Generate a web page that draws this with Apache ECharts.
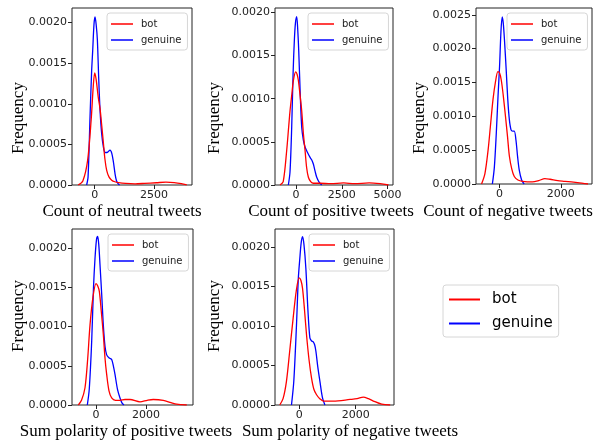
<!DOCTYPE html>
<html>
<head>
<meta charset="utf-8">
<script src="https://cdn.jsdelivr.net/npm/echarts@6/dist/echarts.min.js"></script>
<style>
  html, body { margin: 0; padding: 0; background: #fff; }
  #chart { width: 599px; height: 445px; }
</style>
</head>
<body>
<div id="chart"></div>
<script>
// KDE curves, as [value, density] pairs

const seriesNames = ['bot', 'genuine'];
const seriesColors = ['#ff0000', '#0000ff'];

const xTitles = [
  'Count of neutral tweets',
  'Count of positive tweets',
  'Count of negative tweets',
  'Sum polarity of positive tweets',
  'Sum polarity of negative tweets'
];
const yTitle = 'Frequency';

// tick values per panel
const xTicks = [[0, 2500], [0, 2500, 5000], [0, 2000], [0, 2000], [0, 2000]];
const yTicks = [
  [0, 0.0005, 0.001, 0.0015, 0.002],
  [0, 0.0005, 0.001, 0.0015, 0.002],
  [0, 0.0005, 0.001, 0.0015, 0.002, 0.0025],
  [0, 0.0005, 0.001, 0.0015, 0.002],
  [0, 0.0005, 0.001, 0.0015, 0.002]
];
const xRanges = [[-957, 4100], [-1150, 5300], [-770, 3020], [-960, 3880], [-855, 3355]];
const yMax = [0.00218, 0.00205, 0.0026, 0.002246, 0.002228];

const neutralBot = [
  [-700, 0], [-500, 0.00005], [-300, 0.0003], [-150, 0.0008], [-60, 0.00122], [0, 0.00138],
  [60, 0.0013], [150, 0.00108], [225, 0.00094], [300, 0.00072], [365, 0.00052], [430, 0.00032],
  [505, 0.00018], [600, 0.0001], [715, 0.00006], [850, 0.00004], [1000, 0.00003], [1300, 0.00002],
  [1700, 0.000015], [2100, 0.00002], [2600, 0.000028], [3000, 0.000035], [3350, 0.00003],
  [3650, 0.000018], [3880, 0.000003]
];
const neutralGenuine = [
  [-340, 0], [-280, 0.0001], [-197, 0.00084], [-130, 0.0014], [-84, 0.00166], [-30, 0.00198],
  [14, 0.00207], [60, 0.00198], [112, 0.00179], [170, 0.0013], [225, 0.00092], [290, 0.00064],
  [365, 0.00047], [440, 0.0004], [520, 0.0004], [645, 0.00043], [720, 0.00039], [790, 0.00028],
  [856, 0.00014], [920, 0.00005], [1000, 0.00001], [1050, 0]
];

const positiveBot = [
  [-876, 0], [-700, 0.00004], [-511, 0.0004], [-400, 0.00068], [-328, 0.00086], [-230, 0.00105],
  [-146, 0.00121], [-18, 0.00131], [60, 0.00128], [128, 0.00121], [220, 0.00104], [310, 0.00086],
  [400, 0.0006], [493, 0.0004], [580, 0.0002], [675, 0.00009], [800, 0.00004], [950, 0.00002],
  [1300, 0.00002], [1900, 0.000015], [2600, 0.000025], [3200, 0.000015], [4000, 0.000025],
  [4600, 0.000015], [5055, 0]
];
const positiveGenuine = [
  [-420, 0], [-330, 0.00015], [-237, 0.00067], [-160, 0.0013], [-91, 0.00168], [-30, 0.00188],
  [36, 0.00195], [90, 0.00181], [146, 0.00156], [230, 0.00105], [310, 0.00067], [400, 0.00052],
  [493, 0.00044], [620, 0.00038], [767, 0.00032], [860, 0.00029], [950, 0.00024], [1040, 0.00016],
  [1131, 0.00009], [1270, 0.00003], [1405, 0]
];

const negativeBot = [
  [-589, 0], [-480, 0.00015], [-375, 0.0005], [-300, 0.00085], [-214, 0.00125], [-130, 0.00152],
  [-54, 0.00166], [0, 0.00164], [54, 0.00154], [120, 0.00131], [193, 0.001], [260, 0.0007],
  [321, 0.00041], [400, 0.00022], [481, 0.00011], [600, 0.00006], [749, 0.00004], [1070, 0.00003],
  [1280, 0.00005], [1480, 0.00008], [1650, 0.00007], [1900, 0.00005], [2140, 0.00004],
  [2550, 0.00002], [2890, 0]
];
const negativeGenuine = [
  [-235, 0], [-170, 0.00025], [-107, 0.00075], [-50, 0.0013], [0, 0.00174], [45, 0.00225],
  [86, 0.00247], [120, 0.00238], [160, 0.00213], [215, 0.0017], [268, 0.00125], [320, 0.00095],
  [375, 0.0008], [430, 0.00078], [481, 0.00078], [535, 0.00065], [590, 0.0004], [642, 0.00021],
  [720, 0.00006], [803, 0]
];

const polPositiveBot = [
  [-707, 0], [-580, 0.00006], [-440, 0.00022], [-330, 0.0006], [-240, 0.00102], [-120, 0.00138],
  [0, 0.00155], [70, 0.00152], [133, 0.00145], [210, 0.0012], [293, 0.0009], [360, 0.0006],
  [427, 0.00039], [520, 0.00018], [627, 0.00009], [780, 0.00006], [960, 0.00006], [1160, 0.00007],
  [1360, 0.00007], [1760, 0.00004], [2050, 0.00006], [2290, 0.00007], [2690, 0.00006],
  [3000, 0.00003], [3230, 0.00001], [3630, 0]
];
const polPositiveGenuine = [
  [-347, 0], [-270, 0.0002], [-173, 0.00081], [-100, 0.0015], [-40, 0.00187], [20, 0.00211],
  [67, 0.00215], [110, 0.00205], [160, 0.00179], [230, 0.0014], [293, 0.00102], [360, 0.00075],
  [427, 0.00064], [530, 0.0006], [627, 0.00058], [700, 0.00049], [760, 0.00039], [860, 0.0002],
  [960, 0.00009], [1050, 0.00002], [1120, 0]
];

const polNegativeBot = [
  [-686, 0], [-570, 0.00008], [-450, 0.0003], [-330, 0.0007], [-213, 0.0011], [-100, 0.00145],
  [0, 0.00161], [60, 0.00158], [118, 0.00148], [190, 0.0012], [260, 0.00089], [350, 0.00057],
  [438, 0.00034], [520, 0.0002], [615, 0.00013], [730, 0.00008], [852, 0.00005], [1207, 0.00005],
  [1800, 0.00007], [2050, 0.00008], [2270, 0.0001], [2450, 0.00008], [2626, 0.00005],
  [2920, 0.00001], [3220, 0]
];
const polNegativeGenuine = [
  [-272, 0], [-190, 0.0003], [-95, 0.00101], [-30, 0.0016], [24, 0.00186], [70, 0.00205],
  [118, 0.00213], [170, 0.00203], [237, 0.00173], [310, 0.0012], [379, 0.00085], [440, 0.00081],
  [497, 0.0008], [550, 0.00076], [592, 0.00068], [660, 0.00048], [734, 0.0003], [820, 0.0001],
  [911, 0]
];

const panelData = [
  [neutralBot, neutralGenuine],
  [positiveBot, positiveGenuine],
  [negativeBot, negativeGenuine],
  [polPositiveBot, polPositiveGenuine],
  [polNegativeBot, polNegativeGenuine]
];

// panel boxes in pixels
const panels = [
  { left: 72, top: 8, width: 120, height: 177 },
  { left: 275, top: 8, width: 118, height: 177 },
  { left: 476, top: 8, width: 116, height: 176 },
  { left: 72, top: 229, width: 121, height: 176 },
  { left: 275, top: 229, width: 119, height: 176 }
];
const xTitlePos = [[122, 212], [331, 212], [508, 212], [126, 432], [350, 432]];
const yTitlePos = [[19, 118], [215, 118], [420, 118], [19, 316], [215, 316]];

const tickFont = { fontFamily: 'DejaVu Sans', fontSize: 11, color: '#222' };
const titleFont = '17px "Liberation Serif", "Times New Roman", serif';

const grids = [], xAxes = [], yAxes = [], series = [], legends = [], graphics = [];

panels.forEach((p, i) => {
  grids.push({ left: p.left, top: p.top, width: p.width, height: p.height,
    show: true, borderColor: '#222', borderWidth: 1, backgroundColor: '#fff' });
  xAxes.push({
    type: 'value', gridIndex: i, min: xRanges[i][0], max: xRanges[i][1],
    splitLine: { show: false },
    axisLine: { show: false, onZero: false },
    axisTick: { show: true, length: 4, lineStyle: { color: '#222' }, customValues: xTicks[i] },
    axisLabel: { ...tickFont, margin: 5, customValues: xTicks[i], formatter: v => String(v) }
  });
  yAxes.push({
    type: 'value', gridIndex: i, min: 0, max: yMax[i],
    splitLine: { show: false },
    axisLine: { show: false, onZero: false },
    axisTick: { show: true, length: 4, lineStyle: { color: '#222' }, customValues: yTicks[i] },
    axisLabel: { ...tickFont, margin: 5, customValues: yTicks[i], formatter: v => v.toFixed(4) }
  });
  seriesNames.forEach((name, k) => {
    series.push({
      name, type: 'line', xAxisIndex: i, yAxisIndex: i,
      data: panelData[i][k], showSymbol: false, smooth: 0.3,
      lineStyle: { color: seriesColors[k], width: 1.3 }, itemStyle: { color: seriesColors[k] },
      z: k === 0 ? 3 : 2
    });
  });
  // small legend in the upper right of each panel
  legends.push({
    data: seriesNames, orient: 'vertical',
    left: p.left + p.width - 85, top: p.top + 5,
    icon: 'rect', itemWidth: 22, itemHeight: 1.5, itemGap: 6,
    padding: [6, 6, 5, 4], borderColor: '#d6d6d6', borderWidth: 1, borderRadius: 3,
    backgroundColor: '#fff', selectedMode: false,
    textStyle: { fontFamily: 'DejaVu Sans', fontSize: 10, color: '#222', width: 44, padding: [0, 0, 0, 3] }
  });
  graphics.push({
    type: 'text', x: xTitlePos[i][0], y: xTitlePos[i][1],
    style: { text: xTitles[i], font: titleFont, fill: '#000', align: 'center', verticalAlign: 'middle' }
  });
  graphics.push({
    type: 'text', x: yTitlePos[i][0], y: yTitlePos[i][1], rotation: Math.PI / 2,
    style: { text: yTitle, font: titleFont, fill: '#000', align: 'center', verticalAlign: 'middle' }
  });
});

// the big shared legend at the right of the bottom row
legends.push({
  data: seriesNames, orient: 'vertical', left: 443, top: 285,
  icon: 'rect', itemWidth: 31, itemHeight: 2, itemGap: 9,
  padding: [7, 6, 6, 6], borderColor: '#d6d6d6', borderWidth: 1, borderRadius: 3,
  backgroundColor: '#fff', selectedMode: false,
  textStyle: { fontFamily: 'DejaVu Sans', fontSize: 15, color: '#000', padding: [0, 0, 0, 7] }
});

const chart = echarts.init(document.getElementById('chart'), null, { renderer: 'canvas' });
chart.setOption({
  animation: false,
  backgroundColor: '#fff',
  grid: grids,
  xAxis: xAxes,
  yAxis: yAxes,
  legend: legends,
  series,
  graphic: graphics
});
</script>
</body>
</html>
